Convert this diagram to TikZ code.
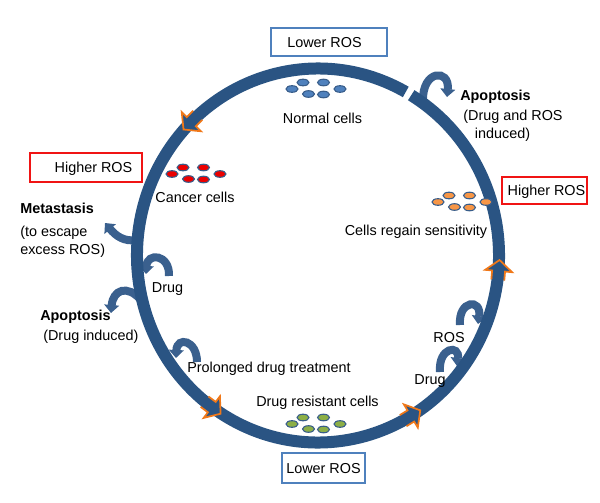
\documentclass[tikz,border=0pt]{standalone}
\usepackage{fontspec}
\setmainfont{Liberation Sans}
\usetikzlibrary{backgrounds,arrows.meta}
\definecolor{ringblue}{RGB}{42,84,131}
\definecolor{curlblue}{RGB}{58,96,142}
\definecolor{edgeblue}{RGB}{56,93,138}
\definecolor{boxblue}{RGB}{79,129,189}
\definecolor{boxred}{RGB}{240,20,20}
\definecolor{tiporange}{RGB}{240,120,25}
\definecolor{cellblue}{RGB}{79,129,189}
\definecolor{cellred}{RGB}{235,0,0}
\definecolor{cellorange}{RGB}{247,150,70}
\definecolor{cellgreen}{RGB}{140,175,70}

\begin{document}
\begin{tikzpicture}
			[x=0.75pt,y=-0.75pt,
			every node/.style={font=\fontsize{10.8}{13}\selectfont,inner sep=0,text height=7.7pt,text depth=0pt},
			hd/.style={font=\fontsize{10.8}{13}\selectfont\bfseries},
			ring/.style={draw=ringblue,line width=9pt},
			curl/.style={draw=curlblue,line width=6pt,-{Triangle[width=11pt,length=6pt]}},
			cell/.style={draw=edgeblue,line width=0.8pt},
			b/.style={draw,line width=1.1pt},
			dir/.pic={
				\fill[ringblue] (-8,-6.5) -- (1,-6.5) -- (1,-13.5) -- (12,0) -- (1,13.5) -- (1,6.5) -- (-8,6.5) -- cycle;
				\draw[tiporange,line width=1.3pt,line join=miter] (-8,-6.5) -- (1,-6.5) -- (1,-13.5) -- (12,0) -- (1,13.5) -- (1,6.5) -- (-8,6.5);
			}]

			\useasboundingbox (0,0) rectangle (600,503);

			\coordinate (ctr) at (318,255.5);

			\draw[ring] (ctr) ++(301:181 and 187) arc[start angle=301,end angle=659,x radius=181,y radius=187];

			\coordinate (o0) at (192,121);
			\coordinate (o1) at (211,406.5);
			\coordinate (o2) at (410,416.5);
			\coordinate (o3) at (498.5,272);

			\pic[rotate=225] at (o0) {dir};
			\pic[rotate=323] at (o1) {dir};
			\pic[rotate=31] at (o2) {dir};
			\pic[rotate=85] at (o3) {dir};

			\begin{pgfonlayer}{background}
				\draw[curl] (423,101) .. controls (422,70) and (450,68) .. (447,97);
				\draw[curl] (137,240) .. controls (124,242) and (116,236) .. (105,223);
				\draw[curl] (141,300) .. controls (127,284) and (113,290) .. (111,313);
				\draw[curl] (169,276) .. controls (170,254) and (147,252) .. (146,274);
				\draw[curl] (197,362) .. controls (197,340) and (177,336) .. (176,358);
				\draw[curl] (460,325) .. controls (458,300) and (482,298) .. (478,324);
				\draw[curl] (440,372) .. controls (438,347) and (460,344) .. (457,366);
			\end{pgfonlayer}

			\foreach \cx/\cy/\cc in {292/89/cellblue,172/174/cellred,438/202/cellorange,292/424/cellgreen}
				\foreach \dx/\dy in {0/0,11/-6.5,16.5/5,31.5/-6.5,31.5/5.5,48/0}
					\draw[cell,fill=\cc] (\cx+\dx,\cy+\dy) ellipse [x radius=6,y radius=3.3];

			\node[b,draw=boxblue,minimum width=87pt,minimum height=21pt] (b0) at (329,42) {Lower ROS\hspace*{6.75pt}};

			\node[b,draw=boxblue,minimum width=62.25pt,minimum height=22.5pt] (b1) at (323.5,468) {Lower ROS};

			\node[b,draw=boxred,minimum width=84pt,minimum height=21.75pt] (b2) at (86,167.5) {\hspace*{11.25pt}Higher ROS};

			\node[b,draw=boxred,minimum width=63.75pt,minimum height=20.25pt] (b3) at (544.5,190.5) {\hspace*{3pt}Higher ROS};

			\node (t0) at (322.5,118) {Normal cells};
			\node (t1) at (195,197) {Cancer cells};
			\node (t2) at (416,230) {Cells regain sensitivity};
			\node (t3) at (317.5,401) {Drug resistant cells};
			\node[anchor=west] (t4) at (187,367.5) {Prolonged drug treatment};
			\node (t5) at (167.5,287) {Drug};
			\node (t6) at (449,337.5) {ROS};
			\node (t7) at (430,379.5) {Drug};

			\node[hd,anchor=west] (t8) at (20,208) {Metastasis};
			\node[anchor=west] (t9) at (20,231) {(to escape};
			\node[anchor=west] (t10) at (20,249) {excess ROS)};

			\node[hd,anchor=west] (t11) at (40,315) {Apoptosis};
			\node[anchor=west] (t12) at (43,335) {(Drug induced)};

			\node[hd,anchor=west] (t13) at (460,95) {Apoptosis};
			\node (t14) at (513,115) {(Drug and ROS};
			\node (t15) at (502.5,133) {induced)};

		\end{tikzpicture}
\end{document}
